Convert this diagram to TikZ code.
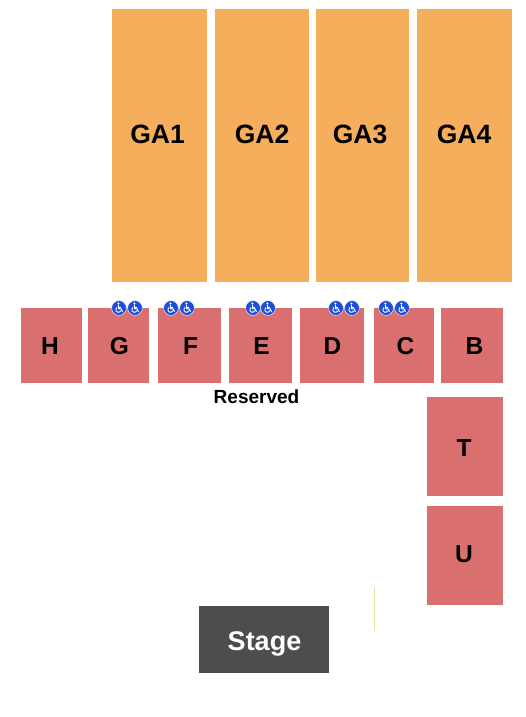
\documentclass[tikz,border=0pt]{standalone}
\usepackage{fontspec}
\setmainfont{Liberation Sans}
\definecolor{gaorange}{HTML}{F5AE5B}
\definecolor{seatred}{HTML}{D96F6E}
\definecolor{stagegray}{HTML}{4D4D4D}
\definecolor{adablue}{HTML}{1F4FD8}
\definecolor{linegreen}{HTML}{D8E8A0}
\tikzset{
  galabel/.style={font=\bfseries\fontsize{26.5}{26.5}\selectfont},
  seatlabel/.style={font=\bfseries\fontsize{24.5}{24.5}\selectfont},
  pics/wheelchair/.style={code={
    \fill[adablue,draw=white,line width=0.4pt] (0,0) circle (7.4);
    \fill[white] (-0.6,-4.6) circle (1.1);
    \draw[white,line width=1pt,line cap=round,line join=round]
      (-0.6,-3) -- (-0.3,0.8) -- (2.2,0.8) -- (3.4,3.8);
    \draw[white,line width=0.8pt] (-0.3,-1) -- (2,-1);
    \draw[white,line width=0.9pt] (-1.9,-0.6) .. controls (-4.4,1.5) and (-2.6,5) .. (0.2,4.2) .. controls (1,4) and (1.6,3.4) .. (1.8,2.8);
  }}
}
\begin{document}
\begin{tikzpicture}[x=1pt,y=-1pt]
  \useasboundingbox (0,0) rectangle (525,717);

  % general admission
  \foreach \name/\xa/\xb/\lx in {GA1/112/207/157.5,GA2/215/309/262,GA3/316/409/360,GA4/417/512/464} {
    \fill[gaorange] (\xa,9) rectangle (\xb,282);
    \node[galabel] (\name) at (\lx,134) {\name};
  }

  % reserved row
  \foreach \name/\xa/\xb/\lx in {H/21/82/50,G/88/149/119.5,F/158/221/190.5,E/229/292/261.5,D/300/364/332.5,C/374/434/405.5,B/441/503/474.5} {
    \fill[seatred] (\xa,308) rectangle (\xb,383);
    \node[seatlabel] (\name) at (\lx,346) {\name};
  }

  % side blocks
  \fill[seatred] (427,397) rectangle (503,496);
  \node[seatlabel] (T) at (464,448) {T};
  \fill[seatred] (427,506) rectangle (503,605);
  \node[seatlabel] (U) at (464,554) {U};

  \foreach \p in {119,135,171,187,253,268,336,352,386,402}
    \pic at (\p,308) {wheelchair};

  \node[font=\bfseries\fontsize{19}{19}\selectfont] (reserved) at (256.5,397) {Reserved};

  \fill[stagegray] (199,606) rectangle (329,673);
  \node[text=white,font=\bfseries\fontsize{27}{27}\selectfont] (stage) at (264.5,643.5) {Stage};

  \draw[linegreen,line width=1pt] (374.5,587) -- (374.5,631);
\end{tikzpicture}
\end{document}
